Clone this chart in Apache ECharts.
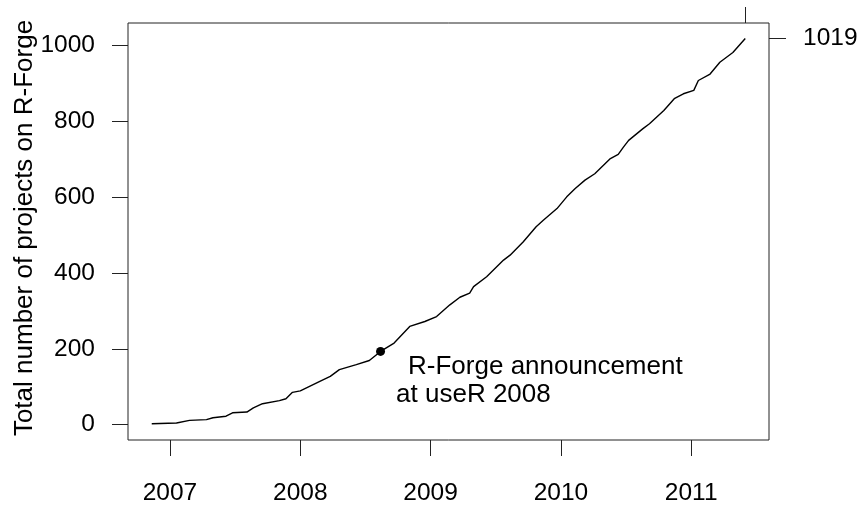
<!DOCTYPE html>
<html>
<head>
<meta charset="utf-8">
<script src="https://cdn.jsdelivr.net/npm/echarts@6/dist/echarts.min.js"></script>
<style>
html,body{margin:0;padding:0;background:#fff;}
#chart{width:861px;height:506px;}
</style>
</head>
<body>
<div id="chart"></div>
<script>
// Cumulative number of R-Forge projects (decimal year, count)
const years = [2006.86, 2007.05, 2007.15, 2007.28, 2007.33, 2007.43, 2007.48, 2007.59, 2007.64, 2007.71,
  2007.84, 2007.89, 2007.94, 2008.0, 2008.15, 2008.23, 2008.30, 2008.43, 2008.53, 2008.616,
  2008.72, 2008.84, 2008.956, 2009.046, 2009.148, 2009.225, 2009.30, 2009.33, 2009.43, 2009.56,
  2009.61, 2009.71, 2009.81, 2009.865, 2009.97, 2010.045, 2010.11, 2010.185, 2010.26, 2010.38,
  2010.44, 2010.48, 2010.52, 2010.63, 2010.68, 2010.79, 2010.87, 2010.94, 2011.02, 2011.055,
  2011.145, 2011.22, 2011.32, 2011.415];
const projects = [2, 4, 11, 13, 18, 22, 31, 33, 44, 55,
  63, 68, 85, 89, 114, 127, 145, 158, 169, 193,
  215, 259, 272, 285, 316, 336, 347, 364, 390, 434,
  447, 482, 522, 539, 570, 601, 623, 645, 662, 702,
  713, 732, 750, 781, 794, 829, 860, 873, 882, 908,
  925, 956, 982, 1019];
const announceYear = [2008.616];
const announceValue = [193];
const announceText = ['R-Forge announcement', 'at useR 2008'];
const xTicks = [2007, 2008, 2009, 2010, 2011];
const yTicks = [0, 200, 400, 600, 800, 1000];
const yTitle = 'Total number of projects on R-Forge';

const lastYear = years[years.length - 1];
const lastValue = projects[projects.length - 1];
const xr = lastYear - years[0];
const xMin = years[0] - 0.04 * xr, xMax = lastYear + 0.04 * xr;
const yMin = 0 - 0.04 * lastValue, yMax = lastValue + 0.04 * lastValue;

const FONT = 'Liberation Sans';
const tickStyle = {color: '#222', width: 1};
const chart = echarts.init(document.getElementById('chart'), null, {renderer: 'canvas'});
chart.setOption({
  animation: false,
  backgroundColor: '#fff',
  grid: {left: 128, right: 92, top: 23, bottom: 66, show: true, borderColor: '#222', borderWidth: 1},
  xAxis: [{
    type: 'value', min: xMin, max: xMax, position: 'bottom',
    axisLine: {show: false, onZero: false}, splitLine: {show: false},
    axisTick: {show: true, inside: false, customValues: xTicks, length: 16, lineStyle: tickStyle},
    axisLabel: {customValues: xTicks, margin: 41, fontSize: 24.5, color: '#000', fontFamily: FONT,
      formatter: v => String(Math.round(v))}
  }, {
    type: 'value', min: xMin, max: xMax, position: 'top',
    axisLine: {show: false, onZero: false}, splitLine: {show: false},
    axisTick: {show: true, inside: false, customValues: [lastYear], length: 16, lineStyle: tickStyle},
    axisLabel: {show: false}
  }],
  yAxis: [{
    type: 'value', min: yMin, max: yMax, position: 'left',
    axisLine: {show: false, onZero: false}, splitLine: {show: false},
    axisTick: {show: true, inside: false, customValues: yTicks, length: 16, lineStyle: tickStyle},
    axisLabel: {customValues: yTicks, margin: 33, fontSize: 24.5, color: '#000', fontFamily: FONT,
      formatter: v => String(Math.round(v))}
  }, {
    type: 'value', min: yMin, max: yMax, position: 'right',
    axisLine: {show: false, onZero: false}, splitLine: {show: false},
    axisTick: {show: true, inside: false, customValues: [lastValue], length: 17, lineStyle: tickStyle},
    axisLabel: {customValues: [lastValue], margin: 34, fontSize: 24.5, color: '#000', fontFamily: FONT,
      formatter: v => String(Math.round(v))}
  }],
  graphic: [{
    type: 'text', x: 25, y: 228, rotation: Math.PI / 2,
    style: {text: yTitle, fontSize: 26, fontFamily: FONT, fill: '#000', align: 'center', verticalAlign: 'middle'}
  }],
  series: [{
    type: 'line', xAxisIndex: 0, yAxisIndex: 0,
    data: years.map((y, i) => [y, projects[i]]),
    showSymbol: false, lineStyle: {color: '#000', width: 1.4}, silent: true
  }, {
    type: 'scatter', xAxisIndex: 0, yAxisIndex: 0,
    data: announceYear.map((y, i) => [y, announceValue[i]]),
    symbol: 'circle', symbolSize: 9, itemStyle: {color: '#000', opacity: 1},
    label: {
      show: true, position: [20, 6], align: 'left', verticalAlign: 'top', color: '#000',
      formatter: '{a|' + announceText[0] + '}\n{b|' + announceText[1] + '}',
      rich: {
        a: {fontSize: 26, fontFamily: FONT, color: '#000', lineHeight: 28, padding: [0, 0, 0, 12]},
        b: {fontSize: 26, fontFamily: FONT, color: '#000', lineHeight: 28}
      }
    }
  }]
});
</script>
</body>
</html>
